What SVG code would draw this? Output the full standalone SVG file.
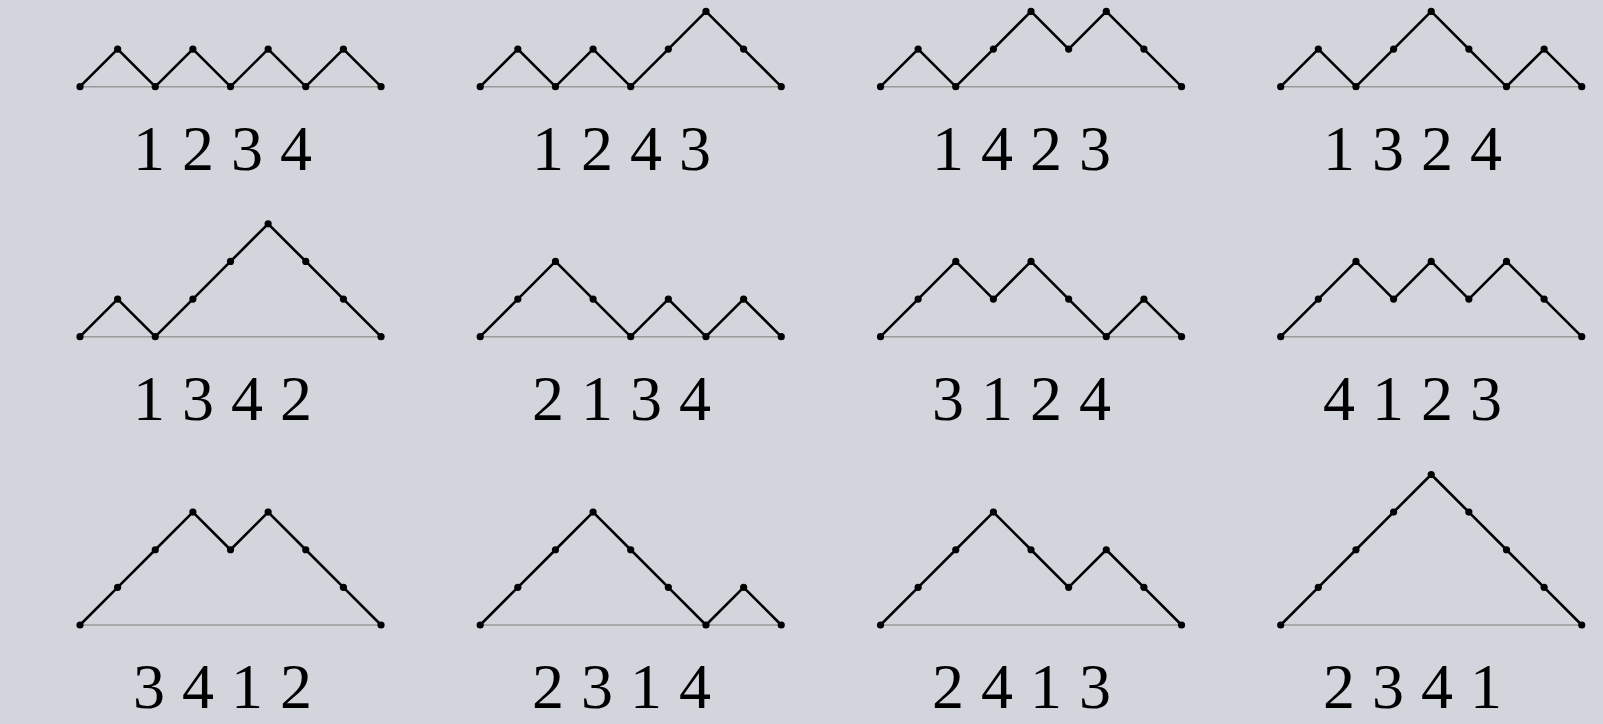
<svg xmlns="http://www.w3.org/2000/svg" width="1603" height="724" viewBox="0 0 1603 724">
<defs>
<marker id="dot" markerUnits="userSpaceOnUse" markerWidth="10" markerHeight="10" refX="5" refY="5" overflow="visible">
<circle cx="5" cy="5" r="3.6" fill="#000"/>
</marker>
</defs>
<style>
.base{stroke:#9a9a9a;stroke-width:1.5;fill:none}
.path{stroke:#000;stroke-width:2.6;fill:none;stroke-linejoin:round;marker-start:url(#dot);marker-mid:url(#dot);marker-end:url(#dot)}
.lbl{font-family:"Liberation Serif","Times New Roman",serif;font-size:64px;fill:#000;text-anchor:middle;word-spacing:1px}
</style>
<rect width="1603" height="724" fill="#d2d5dc"/>

<g id="p1234" transform="translate(80,86.7)">
<line class="base" x1="0" y1="0" x2="301.04" y2="0"/>
<polyline class="path" points="0,0 37.63,-37.63 75.26,0 112.89,-37.63 150.52,0 188.15,-37.63 225.78,0 263.41,-37.63 301.04,0"/>
<text class="lbl" x="142.5" y="83.3">1 2 3 4</text>
</g>
<g id="p1243" transform="translate(480.2,86.7)">
<line class="base" x1="0" y1="0" x2="301.04" y2="0"/>
<polyline class="path" points="0,0 37.63,-37.63 75.26,0 112.89,-37.63 150.52,0 188.15,-37.63 225.78,-75.26 263.41,-37.63 301.04,0"/>
<text class="lbl" x="141.3" y="83.3">1 2 4 3</text>
</g>
<g id="p1423" transform="translate(880.5,86.7)">
<line class="base" x1="0" y1="0" x2="301.04" y2="0"/>
<polyline class="path" points="0,0 37.63,-37.63 75.26,0 112.89,-37.63 150.52,-75.26 188.15,-37.63 225.78,-75.26 263.41,-37.63 301.04,0"/>
<text class="lbl" x="141" y="83.3">1 4 2 3</text>
</g>
<g id="p1324" transform="translate(1280.7,86.7)">
<line class="base" x1="0" y1="0" x2="301.04" y2="0"/>
<polyline class="path" points="0,0 37.63,-37.63 75.26,0 112.89,-37.63 150.52,-75.26 188.15,-37.63 225.78,0 263.41,-37.63 301.04,0"/>
<text class="lbl" x="131.8" y="83.3">1 3 2 4</text>
</g>

<g id="p1342" transform="translate(80,336.7)">
<line class="base" x1="0" y1="0" x2="301.04" y2="0"/>
<polyline class="path" points="0,0 37.63,-37.63 75.26,0 112.89,-37.63 150.52,-75.26 188.15,-112.89 225.78,-75.26 263.41,-37.63 301.04,0"/>
<text class="lbl" x="142.5" y="83.3">1 3 4 2</text>
</g>
<g id="p2134" transform="translate(480.2,336.7)">
<line class="base" x1="0" y1="0" x2="301.04" y2="0"/>
<polyline class="path" points="0,0 37.63,-37.63 75.26,-75.26 112.89,-37.63 150.52,0 188.15,-37.63 225.78,0 263.41,-37.63 301.04,0"/>
<text class="lbl" x="141.3" y="83.3">2 1 3 4</text>
</g>
<g id="p3124" transform="translate(880.5,336.7)">
<line class="base" x1="0" y1="0" x2="301.04" y2="0"/>
<polyline class="path" points="0,0 37.63,-37.63 75.26,-75.26 112.89,-37.63 150.52,-75.26 188.15,-37.63 225.78,0 263.41,-37.63 301.04,0"/>
<text class="lbl" x="141" y="83.3">3 1 2 4</text>
</g>
<g id="p4123" transform="translate(1280.7,336.7)">
<line class="base" x1="0" y1="0" x2="301.04" y2="0"/>
<polyline class="path" points="0,0 37.63,-37.63 75.26,-75.26 112.89,-37.63 150.52,-75.26 188.15,-37.63 225.78,-75.26 263.41,-37.63 301.04,0"/>
<text class="lbl" x="131.8" y="83.3">4 1 2 3</text>
</g>

<g id="p3412" transform="translate(80,625)">
<line class="base" x1="0" y1="0" x2="301.04" y2="0"/>
<polyline class="path" points="0,0 37.63,-37.63 75.26,-75.26 112.89,-112.89 150.52,-75.26 188.15,-112.89 225.78,-75.26 263.41,-37.63 301.04,0"/>
<text class="lbl" x="142.5" y="83">3 4 1 2</text>
</g>
<g id="p2314" transform="translate(480.2,625)">
<line class="base" x1="0" y1="0" x2="301.04" y2="0"/>
<polyline class="path" points="0,0 37.63,-37.63 75.26,-75.26 112.89,-112.89 150.52,-75.26 188.15,-37.63 225.78,0 263.41,-37.63 301.04,0"/>
<text class="lbl" x="141.3" y="83">2 3 1 4</text>
</g>
<g id="p2413" transform="translate(880.5,625)">
<line class="base" x1="0" y1="0" x2="301.04" y2="0"/>
<polyline class="path" points="0,0 37.63,-37.63 75.26,-75.26 112.89,-112.89 150.52,-75.26 188.15,-37.63 225.78,-75.26 263.41,-37.63 301.04,0"/>
<text class="lbl" x="141" y="83">2 4 1 3</text>
</g>
<g id="p2341" transform="translate(1280.7,625)">
<line class="base" x1="0" y1="0" x2="301.04" y2="0"/>
<polyline class="path" points="0,0 37.63,-37.63 75.26,-75.26 112.89,-112.89 150.52,-150.52 188.15,-112.89 225.78,-75.26 263.41,-37.63 301.04,0"/>
<text class="lbl" x="131.8" y="83">2 3 4 1</text>
</g>
</svg>
